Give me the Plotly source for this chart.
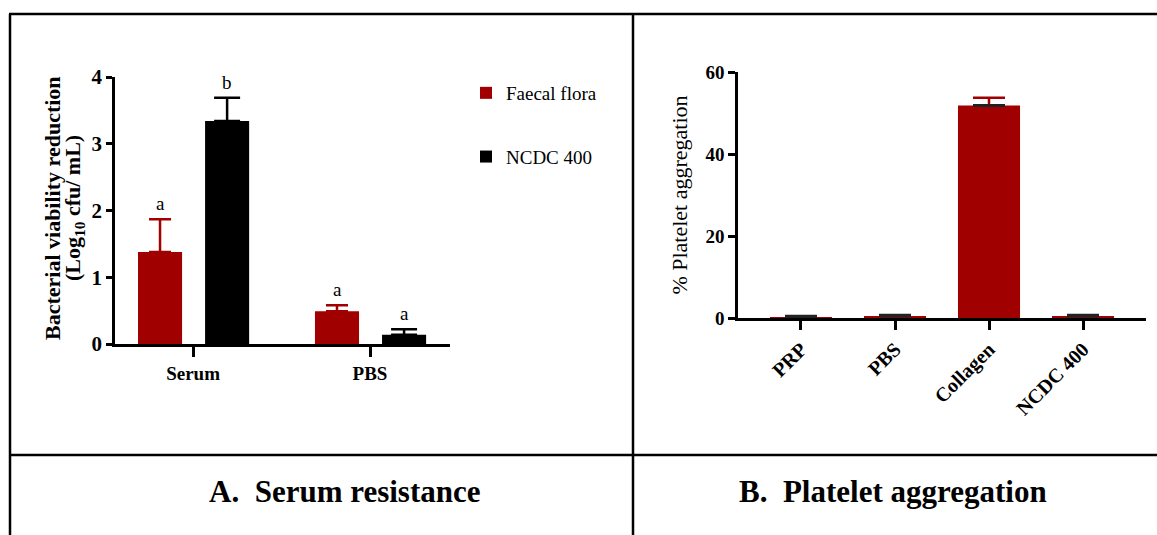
import plotly.graph_objects as go

# ---- Panel A data ----
groups_a = ["Serum", "PBS"]
faecal_vals = [1.38, 0.49]
faecal_err = [0.49, 0.09]
ncdc_vals = [3.34, 0.14]
ncdc_err = [0.35, 0.08]
faecal_letters = ["a", "a"]
ncdc_letters = ["b", "a"]
yticks_a = [0, 1, 2, 3, 4]

# ---- Panel B data ----
cats_b = ["PRP", "PBS", "Collagen", "NCDC 400"]
agg_vals = [0.2, 0.5, 51.8, 0.5]
agg_err = [0.2, 0.2, 1.9, 0.2]
yticks_b = [0, 20, 40, 60]

RED = "#a00000"
BLACK = "#000000"
FONT = "Liberation Serif"
W, H = 1157, 535

fig = go.Figure()

# Panel A bars
fig.add_trace(go.Bar(
    x=groups_a, y=faecal_vals, name="Faecal flora",
    marker=dict(color=RED, line=dict(width=0)),
    width=0.249, offset=-0.311,
    error_y=dict(type="data", array=faecal_err, arrayminus=[0]*len(faecal_err), symmetric=False,
                 color=RED, thickness=2.5, width=11),
    xaxis="x", yaxis="y", legendgroup="f",
))
fig.add_trace(go.Bar(
    x=groups_a, y=ncdc_vals, name="NCDC 400",
    marker=dict(color=BLACK, line=dict(width=0)),
    width=0.249, offset=0.068,
    error_y=dict(type="data", array=ncdc_err, arrayminus=[0]*len(ncdc_err), symmetric=False,
                 color=BLACK, thickness=2.5, width=13),
    xaxis="x", yaxis="y", legendgroup="n",
))

# Panel B bars (collagen with red error bar, others with dark error caps)
red_err = [e if c == "Collagen" else 0 for c, e in zip(cats_b, agg_err)]
dark_err = [0 if c == "Collagen" else e for c, e in zip(cats_b, agg_err)]
fig.add_trace(go.Bar(
    x=cats_b, y=agg_vals, showlegend=False,
    marker=dict(color=RED, line=dict(width=0)),
    width=0.66, offset=-0.33,
    error_y=dict(type="data", array=red_err, arrayminus=[0]*4, symmetric=False,
                 color=RED, thickness=2.5, width=16),
    xaxis="x2", yaxis="y2",
))
fig.add_trace(go.Bar(
    x=cats_b, y=[0]*4, base=agg_vals, showlegend=False, hoverinfo="skip",
    marker=dict(color="rgba(0,0,0,0)", line=dict(width=0)),
    width=0.66, offset=-0.33,
    error_y=dict(type="data", array=dark_err, arrayminus=[0]*4, symmetric=False,
                 color="#222222", thickness=3, width=16),
    xaxis="x2", yaxis="y2",
))

# significance letters
annotations = []
for i, g in enumerate(groups_a):
    annotations.append(dict(x=i - 0.1865, y=faecal_vals[i] + faecal_err[i], xref="x", yref="y",
                            text=faecal_letters[i], showarrow=False, yanchor="bottom", yshift=3,
                            xanchor="center", font=dict(family=FONT, size=19, color="black")))
    annotations.append(dict(x=i + 0.1925, y=ncdc_vals[i] + ncdc_err[i], xref="x", yref="y",
                            text=ncdc_letters[i], showarrow=False, yanchor="bottom", yshift=3,
                            xanchor="center", font=dict(family=FONT, size=19, color="black")))

# y-axis title of panel A (two lines)
annotations.append(dict(x=52 / W, y=1 - 208 / H, xref="paper", yref="paper", textangle=-90,
                        text="<b>Bacterial viability reduction</b>", showarrow=False,
                        xanchor="center", yanchor="middle",
                        font=dict(family=FONT, size=22, color="black")))
annotations.append(dict(x=74 / W, y=1 - 208 / H, xref="paper", yref="paper", textangle=-90,
                        text="<b>(Log<sub>10</sub> cfu/ mL)</b>", showarrow=False,
                        xanchor="center", yanchor="middle",
                        font=dict(family=FONT, size=22, color="black")))

# panel captions
annotations.append(dict(x=345 / W, y=1 - 491 / H, xref="paper", yref="paper",
                        text="<b>A.  Serum resistance</b>", showarrow=False,
                        xanchor="center", yanchor="middle",
                        font=dict(family=FONT, size=31, color="black")))
annotations.append(dict(x=893 / W, y=1 - 491 / H, xref="paper", yref="paper",
                        text="<b>B.  Platelet aggregation</b>", showarrow=False,
                        xanchor="center", yanchor="middle",
                        font=dict(family=FONT, size=31, color="black")))

# table lines
shapes = []
def pline(x0, y0, x1, y1, w=2.5):
    shapes.append(dict(type="line", xref="paper", yref="paper",
                       x0=x0 / W, y0=1 - y0 / H, x1=x1 / W, y1=1 - y1 / H,
                       line=dict(color="black", width=w)))
pline(9, 14, 1157, 14)
pline(10, 14, 10, 535)
pline(633, 14, 633, 535)
pline(9, 455, 1157, 455)

axis_common = dict(showline=True, linecolor="black", linewidth=2.5, ticks="outside",
                   tickcolor="black", tickwidth=2.5, showgrid=False, zeroline=False,
                   automargin=False)

def tf(size):
    return dict(family=FONT, size=size, color="black", weight="bold")

fig.update_layout(
    width=W, height=H,
    margin=dict(l=0, r=0, t=0, b=0),
    plot_bgcolor="white", paper_bgcolor="white",
    font=dict(family=FONT, color="black"),
    xaxis=dict(domain=[115 / W, 450 / W], range=[-0.441, 1.452], type="category",
               ticklen=10, anchor="y", tickfont=tf(19), **axis_common),
    yaxis=dict(domain=[1 - 344 / H, 1 - 77 / H], range=[0, 4], tickvals=yticks_a,
               ticklen=6, anchor="x", tickfont=tf(21), **axis_common),
    xaxis2=dict(domain=[738 / W, 1146 / W], range=[-0.67, 3.67], type="category",
                ticklen=9, anchor="y2", tickangle=-45, tickfont=tf(20), **axis_common),
    yaxis2=dict(domain=[1 - 318 / H, 1 - 72 / H], range=[0, 60], tickvals=yticks_b,
                ticklen=7, anchor="x2", tickfont=tf(19),
                title=dict(text="% Platelet aggregation",
                           font=dict(family=FONT, size=22, color="black"), standoff=12),
                **axis_common),
    legend=dict(x=466 / W, y=1 - 74 / H, xanchor="left", yanchor="top",
                font=dict(family=FONT, size=19, color="black"),
                tracegroupgap=36, bgcolor="rgba(0,0,0,0)"),
    showlegend=True,
    annotations=annotations,
    shapes=shapes,
)

fig.write_html("out.html", config={"displayModeBar": False},
               post_script="document.body.style.margin='0';document.body.style.padding='0';")
